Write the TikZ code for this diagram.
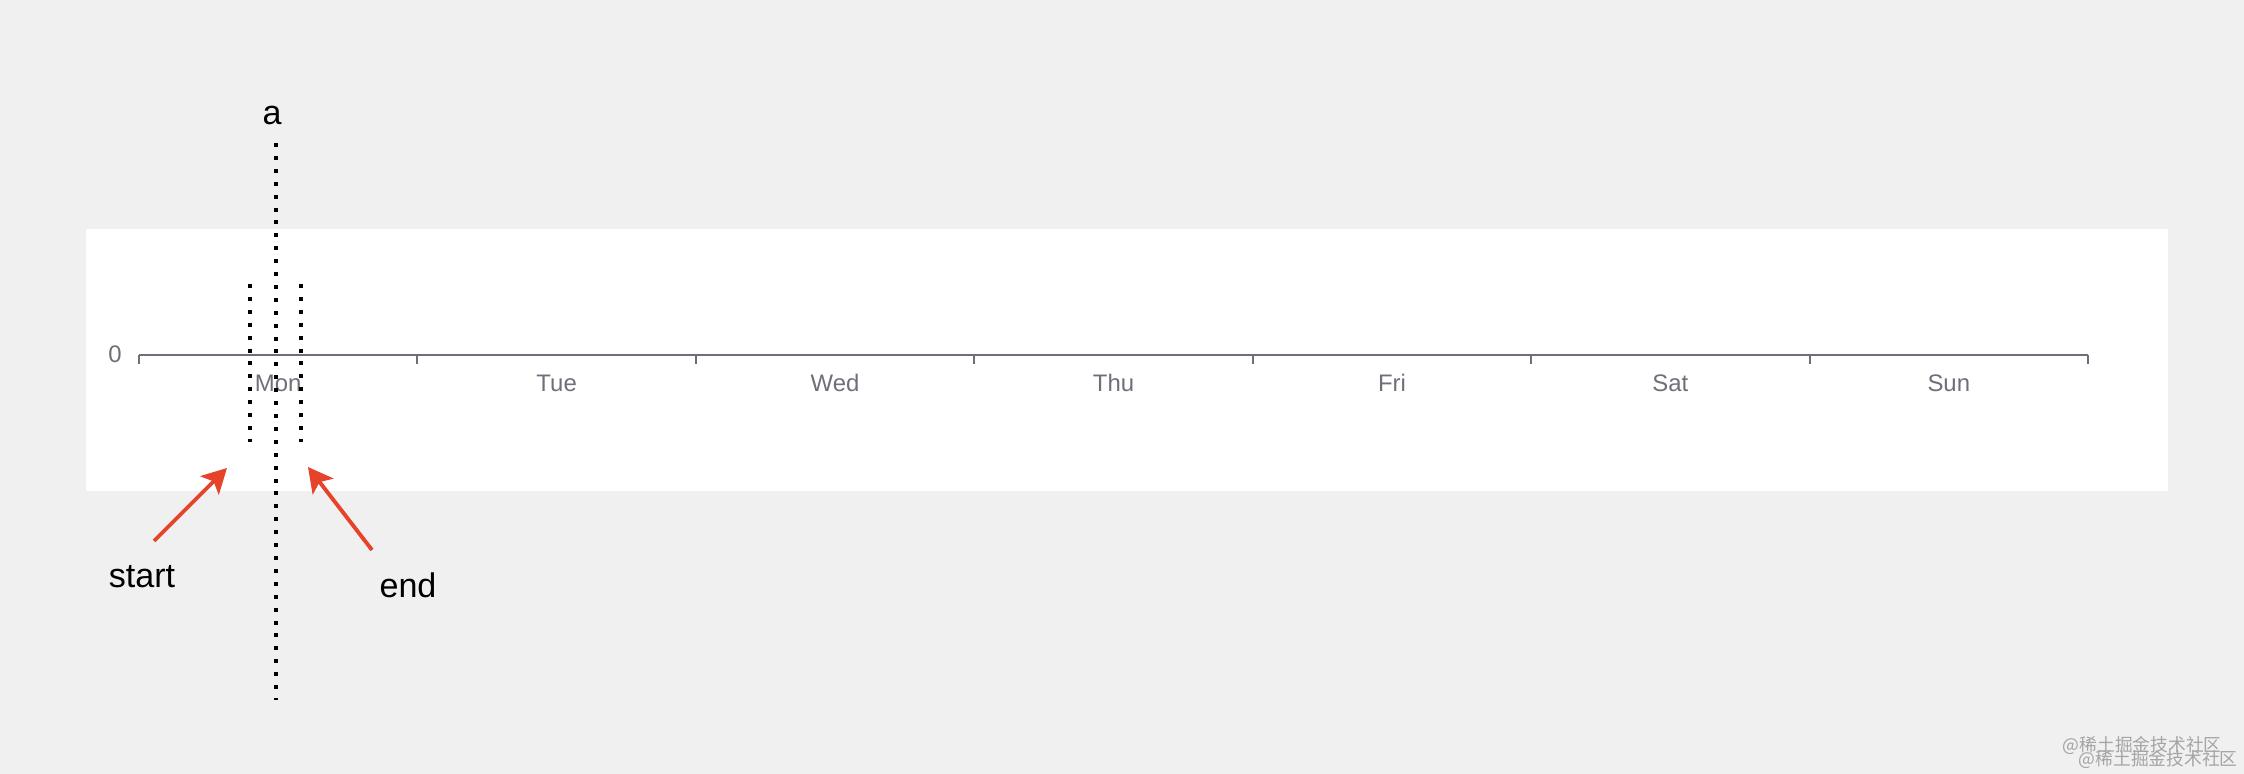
\documentclass[tikz,border=0pt]{standalone}
\usepackage{fontspec}
\setmainfont{Liberation Sans}
\newfontfamily\cjk{Noto Sans CJK SC}
\usetikzlibrary{arrows.meta}
\definecolor{bggray}{HTML}{F0F0F0}
\definecolor{axisgray}{HTML}{6E7079}
\definecolor{markred}{HTML}{E6432B}
\definecolor{wmgray}{HTML}{A4A4A4}
\tikzset{
  dotline/.style={line width=1.14pt, dash pattern=on 1.14pt off 2.53pt},
  markarrow/.style={markred, line width=1.1pt, -{Stealth[length=7pt, width=7.4pt, inset=1.6pt]}},
  daylabel/.style={text=axisgray, anchor=base, inner sep=0pt, font=\fontsize{6.8}{8}\selectfont},
  note/.style={anchor=base, inner sep=0pt, font=\fontsize{9.7}{12}\selectfont},
  watermark/.style={text=wmgray, anchor=base west, inner sep=0pt, font=\cjk\fontsize{5.05}{6}\selectfont}
}
\begin{document}
\begin{tikzpicture}[x=0.01cm, y=-0.01cm]
  %% background and chart panel
  \fill[bggray] (0,0) rectangle (2244,774);
  \fill[white] (86,229) rectangle (2168,491);

  %% x axis
  \draw[axisgray, line width=0.57pt] (139,355) -- (2088,355);
  \foreach \i in {0,...,7}
    \draw[axisgray, line width=0.57pt] ({139+\i*278.43},355) -- ++(0,9);
  \foreach \d [count=\i from 0] in {Mon,Tue,Wed,Thu,Fri,Sat,Sun}
    \node[daylabel] (day\i) at ({139+(\i+0.5)*278.43},392) {\d};
  \node[daylabel] (zero) at (115,363) {0};

  %% dotted markers
  \coordinate (atop) at (276,143);
  \coordinate (abot) at (276,700);
  \coordinate (stop) at (250,284);
  \coordinate (sbot) at (250,442);
  \coordinate (etop) at (301,284);
  \coordinate (ebot) at (301,442);
  \draw[dotline] (atop) -- (abot);
  \draw[dotline] (stop) -- (sbot);
  \draw[dotline] (etop) -- (ebot);

  %% labels and arrows
  \node[note] (alabel) at (272,125) {a};
  \node[note] (startlabel) at (142,588) {start};
  \node[note] (endlabel) at (408,598) {end};
  \coordinate (starttail) at (154,541);
  \coordinate (starttip) at (227,468);
  \coordinate (endtail) at (372,550);
  \coordinate (endtip) at (308,467);
  \draw[markarrow] (starttail) -- (starttip);
  \draw[markarrow] (endtail) -- (endtip);

  %% watermark
  \node[watermark] (wm1) at (2062,752) {@稀土掘金技术社区};
  \node[watermark] (wm2) at (2078,766) {@稀土掘金技术社区};
\end{tikzpicture}
\end{document}
